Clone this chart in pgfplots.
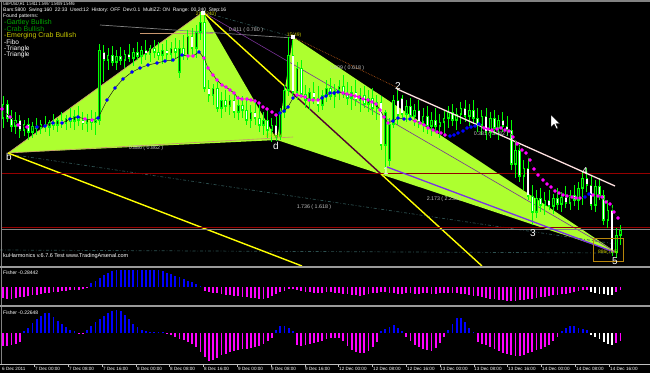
\documentclass[border=0pt]{standalone}
\usepackage{pgfplots}
\pgfplotsset{compat=1.18}
\usepackage{pgfplotstable}
\usepackage{graphicx}
\usepackage{fontspec}
\setmainfont{Liberation Sans}
\newcommand\fz[1]{\fontsize{#1pt}{#1pt}\selectfont}
\definecolor{gy}{RGB}{173,255,47}
\definecolor{cg}{RGB}{0,255,0}
\definecolor{cgd}{RGB}{0,200,0}
\definecolor{mgt}{RGB}{255,0,255}
\definecolor{fblue}{RGB}{0,0,255}
\definecolor{yel}{RGB}{255,255,0}
\definecolor{mar}{RGB}{82,0,47}
\definecolor{dred}{RGB}{150,0,0}
\definecolor{tanl}{RGB}{200,150,110}
\definecolor{lgray}{RGB}{192,192,192}
\definecolor{sgray}{RGB}{130,130,130}
\definecolor{ddot}{RGB}{45,80,80}
\definecolor{brn}{RGB}{170,80,20}
\definecolor{pur}{RGB}{120,50,150}
\definecolor{bviol}{RGB}{120,50,230}
\definecolor{gart}{RGB}{0,170,0}
\definecolor{crab}{RGB}{0,150,0}
\definecolor{emer}{RGB}{200,200,0}
\definecolor{orng}{RGB}{184,134,11}
\definecolor{wline}{RGB}{255,225,225}
\definecolor{maline}{RGB}{20,20,20}

\pgfplotstableread{
i o h l c
0 118 96 128 104
1 104 100 122 118
2 118 110 132 126
3 126 112 134 120
4 120 115 138 130
5 130 120 136 124
6 124 118 140 132
7 132 122 138 126
8 126 118 135 128
9 128 120 134 124
10 124 116 132 127
11 127 120 136 122
12 122 114 130 125
13 125 118 132 120
14 120 112 128 123
15 123 115 130 118
16 118 108 128 121
17 121 110 130 116
18 116 106 126 120
19 120 112 130 123
20 123 114 132 119
21 119 110 130 122
22 122 112 135 120
23 120 44 125 50
24 52 45 82 60
25 60 48 70 55
26 55 46 66 62
27 62 50 70 56
28 56 47 65 60
29 60 50 68 54
30 54 44 62 58
31 58 48 66 52
32 52 42 60 56
33 56 46 64 50
34 50 40 60 54
35 54 45 62 48
36 48 40 58 52
37 52 42 60 55
38 55 44 64 50
39 50 40 60 54
40 54 42 62 48
41 48 38 58 52
42 72 40 78 48
43 48 35 60 55
44 55 30 60 36
45 36 28 55 48
46 48 25 58 32
47 32 12 40 22
48 22 14 92 88
49 88 80 102 95
50 95 84 105 88
51 88 82 112 108
52 108 92 118 100
53 100 90 112 106
54 106 95 115 100
55 100 92 118 112
56 112 96 120 105
57 105 96 118 110
58 110 98 125 120
59 120 105 128 112
60 112 102 125 118
61 118 104 132 125
62 125 112 135 120
63 120 110 138 130
64 130 118 142 125
65 125 115 141 136
66 136 108 140 112
67 112 85 118 90
68 90 37 96 55
69 55 40 96 92
70 92 62 100 68
71 68 60 98 94
72 94 85 108 100
73 100 88 110 92
74 92 82 104 98
75 98 86 112 105
76 105 90 110 95
77 95 80 102 88
78 88 78 100 96
79 96 84 108 90
80 90 80 100 86
81 86 75 98 94
82 94 82 105 98
83 98 86 110 92
84 92 80 106 100
85 100 88 112 95
86 95 86 108 104
87 104 90 112 98
88 98 88 115 108
89 108 95 120 102
90 102 96 150 145
91 145 110 168 112
92 160 118 166 124
93 124 95 128 100
94 100 88 125 115
95 98 95 118 114
96 114 100 122 106
97 106 98 120 116
98 116 104 126 110
99 110 100 128 122
100 122 108 132 116
101 116 106 134 126
102 126 112 136 120
103 120 108 132 126
104 126 114 138 122
105 122 110 134 118
106 118 106 128 112
107 112 104 126 120
108 120 108 130 114
109 114 102 124 108
110 108 100 122 116
111 116 104 126 110
112 110 100 124 118
113 118 108 132 125
114 125 110 135 116
115 116 108 140 132
116 132 112 138 118
117 118 110 135 128
118 128 115 140 120
119 120 112 132 126
120 126 116 136 130
121 130 120 170 164
122 164 140 178 150
123 150 145 182 176
124 176 160 190 168
125 168 158 200 196
126 196 185 225 212
127 212 190 218 198
128 198 188 212 205
129 205 192 215 200
130 200 190 210 206
131 206 194 214 198
132 198 188 210 204
133 204 192 212 197
134 197 186 208 203
135 203 190 210 195
136 195 185 206 200
137 200 182 210 188
138 188 172 205 178
139 178 168 192 185
140 185 175 210 205
141 205 180 212 186
142 186 178 200 195
143 195 190 225 220
144 220 200 228 210
145 210 205 256 252
146 252 228 258 235
147 235 225 245 230
}\candles

% moving average (all points, for the connecting line)
\pgfplotstableread{
x y
2 109
10 117
18 125
27 127
37 127
45 126
53 123
62 123
70 119
78 117
85 119
92 120
98 118
107 100
115 88
123 79
132 72
140 68
148 65
157 63
165 61
173 60
182 55
188 56
193 56
199 52
204 58
208 68
213 75
217 80
222 85
226 87
230 90
234 93
238 98
242 99
247 99
251 100
255 101
259 103
263 107
267 109
272 112
276 115
280 113
284 111
288 107
293 98
297 95
301 96
305 97
309 100
313 100
318 100
322 98
326 96
330 93
334 93
338 92
343 93
347 94
351 95
355 96
359 97
363 99
368 100
372 102
376 104
380 110
384 117
388 123
393 121
398 118
404 119
410 119
415 121
420 123
424 125
428 128
433 130
437 132
441 133
445 135
450 136
454 135
458 133
463 131
467 128
471 127
475 126
479 124
484 128
488 129
492 130
497 129
501 128
505 130
509 131
513 137
517 144
522 150
526 153
530 160
534 169
538 175
543 180
547 184
551 187
555 191
559 193
563 195
567 196
572 197
576 198
580 198
585 197
589 194
593 195
598 196
602 197
606 202
610 204
614 212
618 218
}\ma

% moving average dots when rising (blue)
\pgfplotstableread{
x y
37 127
45 126
53 123
62 123
70 119
78 117
98 118
107 100
115 88
123 79
132 72
140 68
148 65
157 63
165 61
173 60
182 55
199 52
280 113
284 111
288 107
293 98
322 98
326 96
330 93
334 93
338 92
393 121
398 118
404 119
410 119
450 136
454 135
458 133
463 131
467 128
471 127
475 126
479 124
585 197
589 194
}\mab

% moving average dots when falling (magenta)
\pgfplotstableread{
x y
2 109
10 117
18 125
27 127
85 119
92 120
188 56
193 56
204 58
208 68
213 75
217 80
222 85
226 87
230 90
234 93
238 98
242 99
247 99
251 100
255 101
259 103
263 107
267 109
272 112
276 115
297 95
301 96
305 97
309 100
313 100
318 100
343 93
347 94
351 95
355 96
359 97
363 99
368 100
372 102
376 104
380 110
384 117
388 123
415 121
420 123
424 125
428 128
433 130
437 132
441 133
445 135
484 128
488 129
492 130
497 129
501 128
505 130
509 131
513 137
517 144
522 150
526 153
530 160
534 169
538 175
543 180
547 184
551 187
555 191
559 193
563 195
567 196
572 197
576 198
580 198
593 195
598 196
602 197
606 202
610 204
614 212
618 218
}\mam

\pgfplotstableread{
i a wa b wb
0 -11 0 -13 0
1 -12 0 -13 0
2 -12 0 -12 0
3 -11 0 -11 0
4 -10 0 -9 0
5 -10 0 2 0
6 -9 0 5 0
7 -8 0 10 0
8 -8 0 14 0
9 -7 0 17 0
10 -6 0 20 0
11 -6 0 20 0
12 -5 0 16 0
13 -5 0 12 0
14 -4 0 9 0
15 -4 0 6 0
16 -3 0 3 0
17 -3 0 2 0
18 -3 0 -1 0
19 -2 0 -1 0
20 -1 0 3 0
21 4 0 7 0
22 6 0 11 0
23 9 0 14 0
24 12 0 17 0
25 14 0 20 0
26 16 0 22 0
27 17 0 23 0
28 17 0 22 0
29 17 0 18 0
30 17 0 14 0
31 17 0 9 0
32 17 0 6 0
33 17 0 3 0
34 17 0 2 0
35 17 0 1 0
36 17 0 1 0
37 17 0 1 0
38 16 0 1 0
39 14 0 -1 0
40 13 0 -2 0
41 11 0 -4 0
42 10 0 -6 0
43 8 0 -7 0
44 6 0 -9 0
45 5 0 -11 0
46 3 0 -14 0
47 1 0 -19 0
48 -4 0 -24 0
49 -5 0 -28 0
50 -6 0 -27 0
51 -6 0 -25 0
52 -7 0 -22 0
53 -8 0 -21 0
54 -8 0 -19 0
55 -9 0 -18 0
56 -9 0 -17 0
57 -10 0 -16 0
58 -10 0 -16 0
59 -11 0 -15 0
60 -11 0 -14 0
61 -12 0 -13 0
62 -12 0 -11 0
63 -11 0 -8 0
64 -9 0 -5 0
65 -7 0 3 0
66 -5 0 7 0
67 -4 0 7 0
68 -2 0 5 0
69 -2 0 2 0
70 -3 0 -12 0
71 -4 0 -13 0
72 -5 0 -12 0
73 -5 0 -11 0
74 -6 0 -10 0
75 -6 0 -9 0
76 -6 0 -8 0
77 -5 0 -6 0
78 -5 0 -5 0
79 -6 0 -5 0
80 -6 0 -5 0
81 -7 0 -8 0
82 -7 0 -13 0
83 -8 0 -17 0
84 -8 0 -19 0
85 -9 0 -20 0
86 -8 0 -20 0
87 -7 0 -18 0
88 -6 0 -14 0
89 -6 0 -9 0
90 -5 0 2 0
91 -5 0 4 0
92 -6 0 6 0
93 -6 0 8 0
94 -7 0 5 0
95 -7 0 2 0
96 -6 0 -4 0
97 -6 0 -8 0
98 -7 0 -12 0
99 -7 0 -14 0
100 -6 0 -16 0
101 -6 0 -17 0
102 -7 0 -18 0
103 -7 0 -15 0
104 -6 0 -10 0
105 -6 0 -4 0
106 -6 0 3 0
107 -6 0 9 0
108 -6 0 15 0
109 -7 0 15 0
110 -7 0 11 0
111 -8 0 5 0
112 -9 0 1 0
113 -9 0 -9 0
114 -10 0 -11 0
115 -11 0 -12 0
116 -12 0 -14 0
117 -12 0 -16 0
118 -13 0 -18 0
119 -13 0 -20 0
120 -14 0 -21 0
121 -14 0 -22 0
122 -14 0 -23 0
123 -13 0 -23 0
124 -13 0 -22 0
125 -12 0 -20 0
126 -12 0 -19 0
127 -11 0 -17 0
128 -10 0 -16 0
129 -10 0 -14 0
130 -9 0 -12 0
131 -8 0 -8 0
132 -8 0 -4 0
133 -7 0 2 0
134 -7 0 5 0
135 -6 0 7 0
136 -5 0 7 0
137 -4 0 5 0
138 -3 0 4 0
139 -3 0 3 0
140 -5 1 -2 1
141 -6 1 -4 1
142 -7 1 -6 1
143 -7 1 -9 1
144 -8 1 -11 1
145 -8 1 -12 1
146 -5 0 -10 0
147 -3 0 -8 0
}\fish

\begin{document}
\begin{tikzpicture}
% ---------- canvas / main panel (pixel coordinates) ----------
\begin{axis}[name=canvas, at={(0pt,0pt)}, anchor=south west,
  scale only axis, width=650pt, height=373pt,
  xmin=0, xmax=650, ymin=0, ymax=373, y dir=reverse,
  axis lines=none, ticks=none, clip=true]
\addplot[fill=black, draw=none, forget plot] coordinates {(0,0) (650,0) (650,373) (0,373)} -- cycle;
% harmonic pattern triangles
\addplot[fill=gy, draw=none] coordinates {(8,153) (203,12) (277,140)} -- cycle;
\addplot[fill=gy, draw=none] coordinates {(277,140) (293,37) (616,252)} -- cycle;
% background lines
\addplot[tanl, line width=0.6pt] coordinates {(8,153) (203,12)};
\addplot[tanl, line width=0.6pt] coordinates {(8,153) (293,137)};
\addplot[tanl, line width=0.6pt] coordinates {(140,33) (213,33)};
\addplot[sgray, line width=0.7pt] coordinates {(100,25) (293,38)};
\addplot[ddot, line width=0.7pt, dash dot] coordinates {(203,12) (293,37)};
\addplot[ddot, line width=0.7pt, dash dot] coordinates {(8,154) (616,244)};
\addplot[ddot, line width=0.7pt, dash dot] coordinates {(0,250) (616,253)};
\addplot[brn, line width=0.7pt, densely dotted] coordinates {(293,37) (398,88)};
\addplot[pur, line width=0.6pt] coordinates {(203,12) (616,252)};
\addplot[yel, line width=1.4pt] coordinates {(8,153) (302,266)};
\addplot[yel, line width=1.4pt] coordinates {(203,12) (285,86.5)};
\addplot[mar, line width=1.4pt] coordinates {(285,86.5) (381,174)};
\addplot[yel, line width=1.4pt] coordinates {(381,174) (482,266)};
% horizontal levels
\addplot[dred, line width=0.7pt] coordinates {(2,173) (650,173)};
\addplot[dred, line width=0.7pt] coordinates {(2,227.5) (650,227.5)};
\addplot[sgray, line width=0.7pt] coordinates {(2,229.8) (650,229.8)};
% candles: wicks
\addplot[draw=none, mark=none, error bars/.cd, y dir=both, y explicit, error mark=none,
  error bar style={draw=cg, line width=0.8pt}]
  table[x expr={3+4.2*\thisrow{i}}, y expr={(\thisrow{h}+\thisrow{l})/2}, y error expr={(\thisrow{l}-\thisrow{h})/2}] {\candles};
% candle bodies: outline
\addplot[draw=none, mark=none, error bars/.cd, y dir=both, y explicit, error mark=none,
  error bar style={draw=cg, line width=2.6pt}]
  table[x expr={3+4.2*\thisrow{i}}, y expr={(\thisrow{o}+\thisrow{c})/2}, y error expr={abs(\thisrow{c}-\thisrow{o})/2+0.5}] {\candles};
% inner dark (bull)
\addplot[draw=none, mark=none, error bars/.cd, y dir=both, y explicit, error mark=none,
  error bar style={draw=black!70!cgd, line width=1pt}]
  table[x expr={3+4.2*\thisrow{i}}, y expr={(\thisrow{o}+\thisrow{c})/2}, y error expr={max(abs(\thisrow{c}-\thisrow{o})/2-0.6,0)}] {\candles};
% inner white (bear)
\addplot[draw=none, mark=none, error bars/.cd, y dir=both, y explicit, error mark=none,
  error bar style={draw=white, line width=1.4pt}]
  table[x expr={3+4.2*\thisrow{i}}, y expr={(\thisrow{o}+\thisrow{c})/2}, y error expr={(\thisrow{c}>\thisrow{o})*max((\thisrow{c}-\thisrow{o})/2-0.6,0)}] {\candles};
% wedge lines
\addplot[wline, line width=1.3pt] coordinates {(397,89) (615,186)};
\addplot[bviol, line width=1.3pt] coordinates {(387,167) (614,252)};
% box at point 5
\addplot[orng, line width=0.7pt] coordinates {(593,238) (623,238) (623,261) (593,261)} -- cycle;
% point markers
\addplot[only marks, mark=square*, mark size=1.5pt, mark options={draw=white, fill=white}] coordinates {(203,13) (293,37)};
% cursor
\addplot[fill=white, draw=black, line width=0.3pt] coordinates {(551,115) (551,127) (554,124) (556.5,129) (558,128.3) (555.8,123.5) (559.5,123.5)} -- cycle;
% moving average line and dots
\addplot[draw=maline, line width=0.45pt, no markers] table[x=x, y=y] {\ma};
\addplot[only marks, mark=*, mark size=1.7pt, mark options={draw=fblue, fill=fblue}] table[x=x, y=y] {\mab};
\addplot[only marks, mark=*, mark size=1.7pt, mark options={draw=mgt, fill=mgt}] table[x=x, y=y] {\mam};
% header texts
\node[anchor=west, inner sep=0pt, text=white, font=\fz{5}] at (axis cs:3,4.5) {\scalebox{0.74}[1]{GBPUSD,H1\ \ 1.5411 1.5447 1.5409 1.5446}};
\node[anchor=west, inner sep=0pt, text=white, font=\fz{5}] at (axis cs:3,10.5) {Bars:5800\ \ Swing:160\ \ 22:33\ \ Used:12\ \ History: OFF\ \ Dev:0.1\ \ MultiZZ: ON\ \ Range: 00,240\ \ Step:16};
\node[anchor=west, inner sep=0pt, text=white, font=\fz{5}] at (axis cs:3,15.8) {Found patterns:};
\node[anchor=west, inner sep=0pt, text=gart, font=\fz{7}] at (axis cs:4,22.5) {-Gartley Bullish};
\node[anchor=west, inner sep=0pt, text=crab, font=\fz{7}] at (axis cs:4,29.3) {-Crab Bullish};
\node[anchor=west, inner sep=0pt, text=emer, font=\fz{7}] at (axis cs:4,36) {-Emerging Crab Bullish};
\node[anchor=west, inner sep=0pt, text=white, font=\fz{6.5}] at (axis cs:4,42.3) {-Fibo};
\node[anchor=west, inner sep=0pt, text=white, font=\fz{6.5}] at (axis cs:4,48.5) {-Triangle};
\node[anchor=west, inner sep=0pt, text=white, font=\fz{6.5}] at (axis cs:4,54.8) {-Triangle};
% ratio labels
\node[inner sep=0pt, text=lgray, font=\fz{5.3}] at (axis cs:146,148) {0.886 ( 0.862 )};
\node[inner sep=0pt, text=lgray, font=\fz{5.3}] at (axis cs:246,30) {0.811 ( 0.780 )};
\node[inner sep=0pt, text=lgray, font=\fz{5.3}] at (axis cs:347,68) {0.809 ( 0.618 )};
\node[inner sep=0pt, text=lgray, font=\fz{5.3}] at (axis cs:314,207) {1.736 ( 1.618 )};
\node[inner sep=0pt, text=lgray, font=\fz{5.3}] at (axis cs:444,199) {2.173 ( 2.236 )};
\node[inner sep=0pt, text=lgray, font=\fz{5.3}] at (axis cs:491,134) {0.381 ( 0.382 )};
% yellow point labels
\node[inner sep=0pt, text=emer, font=\fz{5}] at (axis cs:206,14) {208(240)};
\node[inner sep=0pt, text=emer, font=\fz{5}] at (axis cs:294,35.5) {15(49)};
\node[inner sep=0pt, text=emer, font=\fz{5}] at (axis cs:274,136.5) {150(60)};
\node[inner sep=0pt, text=emer, font=\fz{5}] at (axis cs:608,252.5) {886(786)};
% point names
\node[inner sep=0pt, text=white, font=\fz{10}] at (axis cs:9,157) {b};
\node[inner sep=0pt, text=white, font=\fz{10}] at (axis cs:276,146) {d};
\node[inner sep=0pt, text=white, font=\fz{10}] at (axis cs:386,171) {1};
\node[inner sep=0pt, text=white, font=\fz{10}] at (axis cs:398,86) {2};
\node[inner sep=0pt, text=white, font=\fz{10}] at (axis cs:533,233) {3};
\node[inner sep=0pt, text=white, font=\fz{10}] at (axis cs:585,171) {4};
\node[inner sep=0pt, text=white, font=\fz{10}] at (axis cs:615,261) {5};
% footer text of main panel
\node[anchor=west, inner sep=0pt, text=white, font=\fz{5.5}] at (axis cs:3,256) {kuHarmonics v.6.7.6 Test www.TradingArsenal.com};
% indicator labels
\node[anchor=west, inner sep=0pt, text=white, font=\fz{5}] at (axis cs:3,272.5) {Fisher -0.28442};
\node[anchor=west, inner sep=0pt, text=white, font=\fz{5}] at (axis cs:3,312.5) {Fisher -0.22648};
% frame and separators
\draw[sgray, line width=1.5pt] (axis cs:0,0.8) -- (axis cs:650,0.8);
\draw[sgray, line width=1pt] (axis cs:1,0) -- (axis cs:1,364);
\draw[lgray!80!black, line width=2pt] (axis cs:0,266.5) -- (axis cs:650,266.5);
\draw[lgray!80!black, line width=2pt] (axis cs:0,305.7) -- (axis cs:650,305.7);
\draw[lgray, line width=1pt] (axis cs:0,364) -- (axis cs:650,364);
% time ticks
\addplot[draw=none, mark=none, error bars/.cd, y dir=plus, y explicit, error mark=none,
  error bar style={draw=lgray, line width=0.5pt}]
  coordinates {(34.5,364) +- (0,2.5) (68.3,364) +- (0,2.5) (102.1,364) +- (0,2.5) (135.9,364) +- (0,2.5) (169.7,364) +- (0,2.5) (203.5,364) +- (0,2.5) (237.3,364) +- (0,2.5) (271.1,364) +- (0,2.5) (304.9,364) +- (0,2.5) (338.7,364) +- (0,2.5) (372.5,364) +- (0,2.5) (406.3,364) +- (0,2.5) (440.1,364) +- (0,2.5) (473.9,364) +- (0,2.5) (507.7,364) +- (0,2.5) (541.5,364) +- (0,2.5) (575.3,364) +- (0,2.5) (609.1,364) +- (0,2.5)};
% date labels
\node[anchor=west, inner sep=0pt, text=white, font=\fz{4.6}] at (axis cs:2,369) {6 Dec 2011};
\node[anchor=west, inner sep=0pt, text=white, font=\fz{4.6}] at (axis cs:35,369) {7 Dec 00:00};
\node[anchor=west, inner sep=0pt, text=white, font=\fz{4.6}] at (axis cs:69,369) {7 Dec 08:00};
\node[anchor=west, inner sep=0pt, text=white, font=\fz{4.6}] at (axis cs:103,369) {7 Dec 16:00};
\node[anchor=west, inner sep=0pt, text=white, font=\fz{4.6}] at (axis cs:137,369) {8 Dec 00:00};
\node[anchor=west, inner sep=0pt, text=white, font=\fz{4.6}] at (axis cs:170,369) {8 Dec 08:00};
\node[anchor=west, inner sep=0pt, text=white, font=\fz{4.6}] at (axis cs:204,369) {8 Dec 16:00};
\node[anchor=west, inner sep=0pt, text=white, font=\fz{4.6}] at (axis cs:238,369) {9 Dec 00:00};
\node[anchor=west, inner sep=0pt, text=white, font=\fz{4.6}] at (axis cs:271,369) {9 Dec 08:00};
\node[anchor=west, inner sep=0pt, text=white, font=\fz{4.6}] at (axis cs:305,369) {9 Dec 16:00};
\node[anchor=west, inner sep=0pt, text=white, font=\fz{4.6}] at (axis cs:339,369) {12 Dec 00:00};
\node[anchor=west, inner sep=0pt, text=white, font=\fz{4.6}] at (axis cs:373,369) {12 Dec 08:00};
\node[anchor=west, inner sep=0pt, text=white, font=\fz{4.6}] at (axis cs:407,369) {12 Dec 16:00};
\node[anchor=west, inner sep=0pt, text=white, font=\fz{4.6}] at (axis cs:440,369) {13 Dec 00:00};
\node[anchor=west, inner sep=0pt, text=white, font=\fz{4.6}] at (axis cs:474,369) {13 Dec 08:00};
\node[anchor=west, inner sep=0pt, text=white, font=\fz{4.6}] at (axis cs:508,369) {13 Dec 16:00};
\node[anchor=west, inner sep=0pt, text=white, font=\fz{4.6}] at (axis cs:542,369) {14 Dec 00:00};
\node[anchor=west, inner sep=0pt, text=white, font=\fz{4.6}] at (axis cs:576,369) {14 Dec 08:00};
\node[anchor=west, inner sep=0pt, text=white, font=\fz{4.6}] at (axis cs:610,369) {14 Dec 16:00};
\end{axis}

% ---------- Fisher panel 1 ----------
\begin{axis}[at={(0pt,68pt)}, anchor=south west,
  scale only axis, width=650pt, height=38.5pt,
  xmin=0, xmax=650, ymin=-18, ymax=20.5,
  axis lines=none, ticks=none, clip=true]
\addplot[ycomb, fblue, line width=1.8pt, mark=none] table[x expr={3+4.2*\thisrow{i}}, y expr={max(\thisrow{a},0)}] {\fish};
\addplot[ycomb, mgt, line width=1.8pt, mark=none] table[x expr={3+4.2*\thisrow{i}}, y expr={min(\thisrow{a},0)*(1-\thisrow{wa})}] {\fish};
\addplot[ycomb, white, line width=1.8pt, mark=none] table[x expr={3+4.2*\thisrow{i}}, y expr={min(\thisrow{a},0)*\thisrow{wa}}] {\fish};
\end{axis}

% ---------- Fisher panel 2 ----------
\begin{axis}[at={(0pt,9pt)}, anchor=south west,
  scale only axis, width=650pt, height=58pt,
  xmin=0, xmax=650, ymin=-30.7, ymax=27.3,
  axis lines=none, ticks=none, clip=true]
\addplot[ycomb, fblue, line width=1.8pt, mark=none] table[x expr={3+4.2*\thisrow{i}}, y expr={max(\thisrow{b},0)}] {\fish};
\addplot[ycomb, mgt, line width=1.8pt, mark=none] table[x expr={3+4.2*\thisrow{i}}, y expr={min(\thisrow{b},0)*(1-\thisrow{wb})}] {\fish};
\addplot[ycomb, white, line width=1.8pt, mark=none] table[x expr={3+4.2*\thisrow{i}}, y expr={min(\thisrow{b},0)*\thisrow{wb}}] {\fish};
\end{axis}
\end{tikzpicture}
\end{document}
